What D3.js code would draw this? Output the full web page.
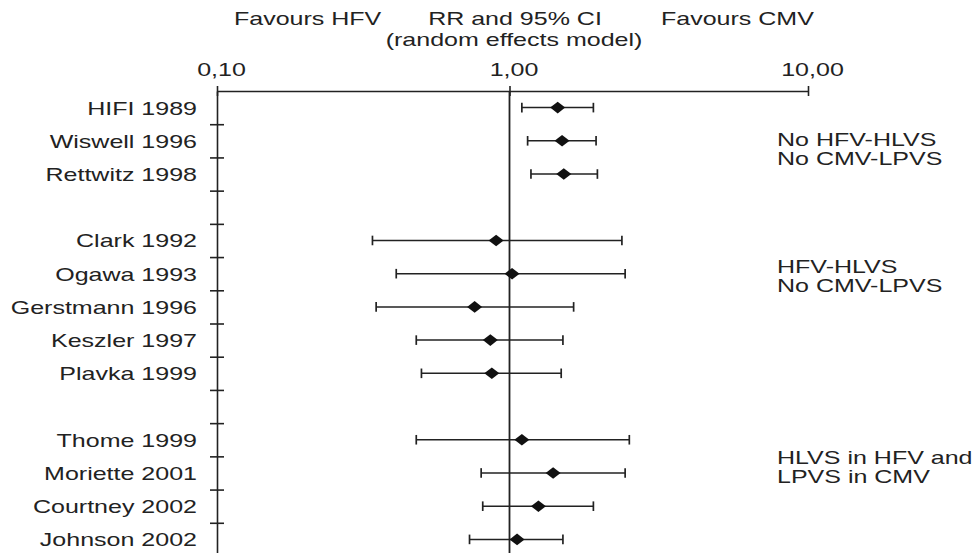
<!DOCTYPE html>
<html>
<head>
<meta charset="utf-8">
<script src="https://cdn.jsdelivr.net/npm/d3@7"></script>
<style>
  html, body { margin: 0; padding: 0; background: #fff; }
  svg { display: block; }
  text { font-family: "Liberation Sans", Arial, Helvetica, sans-serif; fill: #222; }
</style>
</head>
<body>
<svg id="chart" width="976" height="553"></svg>
<script>
// ---------------- data ----------------
const studies = ["HIFI 1989", "Wiswell 1996", "Rettwitz 1998",
                 "Clark 1992", "Ogawa 1993", "Gerstmann 1996", "Keszler 1997", "Plavka 1999",
                 "Thome 1999", "Moriette 2001", "Courtney 2002", "Johnson 2002"];
const groupOf = [0, 0, 0, 1, 1, 1, 1, 1, 2, 2, 2, 2];
const rr    = [1.45, 1.50, 1.52, 0.90, 1.02, 0.76, 0.86, 0.87, 1.10, 1.40, 1.25, 1.06];
const lower = [1.10, 1.15, 1.18, 0.34, 0.41, 0.35, 0.48, 0.50, 0.48, 0.80, 0.81, 0.73];
const upper = [1.91, 1.95, 1.97, 2.38, 2.44, 1.64, 1.51, 1.49, 2.52, 2.44, 1.91, 1.51];
const groupNotes = [["No HFV-HLVS", "No CMV-LPVS"],
                    ["HFV-HLVS", "No CMV-LPVS"],
                    ["HLVS in HFV and", "LPVS in CMV"]];
const tickValues = [0.1, 1, 10];
const tickLabels = ["0,10", "1,00", "10,00"];
const headerLeft = "Favours HFV";
const headerMid = ["RR and 95% CI", "(random effects model)"];
const headerRight = "Favours CMV";

// ---------------- layout ----------------
const svg = d3.select("#chart");
const FS = 17.5, SX = 1.43;           // font size and horizontal stretch of the original
const axisY = 91;
const stretch = (x, y) => `translate(${x},${y}) scale(${SX},1)`;

// rows: studies with spacer rows between groups
const rows = [];
studies.forEach((s, i) => {
  if (i > 0 && groupOf[i] !== groupOf[i - 1]) rows.push("gap" + groupOf[i]);
  rows.push(s);
});

const x = d3.scaleLog().domain([0.1, 1, 10]).range([217, 509.5, 808]);
const y = d3.scaleBand().domain(rows).range([axisY, 556]).paddingInner(0).paddingOuter(0);
const bw = y.bandwidth();
const cy = r => y(r) + bw / 2;

const ink = "#222";

// top axis
const topAxis = d3.axisTop(x).tickValues(tickValues)
  .tickFormat((d, i) => tickLabels[i]).tickSizeOuter(0).tickSizeInner(5);
const gTop = svg.append("g").attr("transform", `translate(0,${axisY})`).call(topAxis);
gTop.select(".domain").attr("stroke", ink).attr("stroke-width", 1.6);
gTop.selectAll(".tick line").attr("stroke", ink).attr("stroke-width", 1.6).attr("y1", -5).attr("y2", 5);
gTop.selectAll(".tick text")
  .attr("y", 0).attr("dy", 0).attr("x", 0)
  .attr("transform", `translate(4,-15.5) scale(${SX},1)`)
  .style("font-size", FS + "px").style("font-family", null).attr("fill", ink);

// left axis with ticks at row boundaries
const boundaries = rows.slice(1).map(r => y(r));
const yLin = d3.scaleLinear().domain([axisY, 556]).range([axisY, 556]);
const leftAxis = d3.axisLeft(yLin).tickValues(boundaries).tickFormat("").tickSizeOuter(0).tickSizeInner(7);
const gLeft = svg.append("g").attr("transform", `translate(${x(0.1)},0)`).call(leftAxis);
gLeft.select(".domain").attr("stroke", ink).attr("stroke-width", 1.6);
gLeft.selectAll(".tick line").attr("stroke", ink).attr("stroke-width", 1.6).attr("x1", -7).attr("x2", 7);

// reference line at RR = 1
svg.append("line").attr("x1", x(1)).attr("x2", x(1)).attr("y1", axisY).attr("y2", 556)
  .attr("stroke", ink).attr("stroke-width", 1.8);

// study labels
svg.append("g").selectAll("text").data(studies).join("text")
  .attr("transform", d => stretch(x(0.1) - 20, cy(d) + 7))
  .attr("text-anchor", "end").style("font-size", FS + "px").text(d => d);

// error bars
const g = svg.append("g");
studies.forEach((s, i) => {
  const yy = cy(s);
  g.append("line").attr("x1", x(lower[i])).attr("x2", x(upper[i])).attr("y1", yy).attr("y2", yy)
    .attr("stroke", ink).attr("stroke-width", 1.5);
  [lower[i], upper[i]].forEach(v => {
    g.append("line").attr("x1", x(v)).attr("x2", x(v)).attr("y1", yy - 4.8).attr("y2", yy + 4.8)
      .attr("stroke", ink).attr("stroke-width", 1.7);
  });
  g.append("path").attr("d", "M-7.5,0L0,-5.8L7.5,0L0,5.8Z")
    .attr("transform", `translate(${x(rr[i])},${yy})`).attr("fill", "#111");
});

// header texts
svg.append("text").attr("transform", stretch(234, 25)).style("font-size", FS + "px").text(headerLeft);
svg.append("text").attr("transform", stretch(515, 25)).attr("text-anchor", "middle").style("font-size", FS + "px").text(headerMid[0]);
svg.append("text").attr("transform", stretch(514, 46)).attr("text-anchor", "middle").style("font-size", FS + "px").text(headerMid[1]);
svg.append("text").attr("transform", stretch(661, 25)).style("font-size", FS + "px").text(headerRight);

// group notes on the right
const groupFirst = [0, 1, 2].map(gi => studies[groupOf.indexOf(gi)]);
const noteOffsets = [38, 32.5, 24.5];   // baseline of first line below the group's first row centre
groupNotes.forEach((lines, gi) => {
  const base = cy(groupFirst[gi]) + noteOffsets[gi];
  lines.forEach((t, li) => {
    svg.append("text").attr("transform", stretch(777, base + li * 19))
      .style("font-size", FS + "px").text(t);
  });
});
</script>
</body>
</html>
